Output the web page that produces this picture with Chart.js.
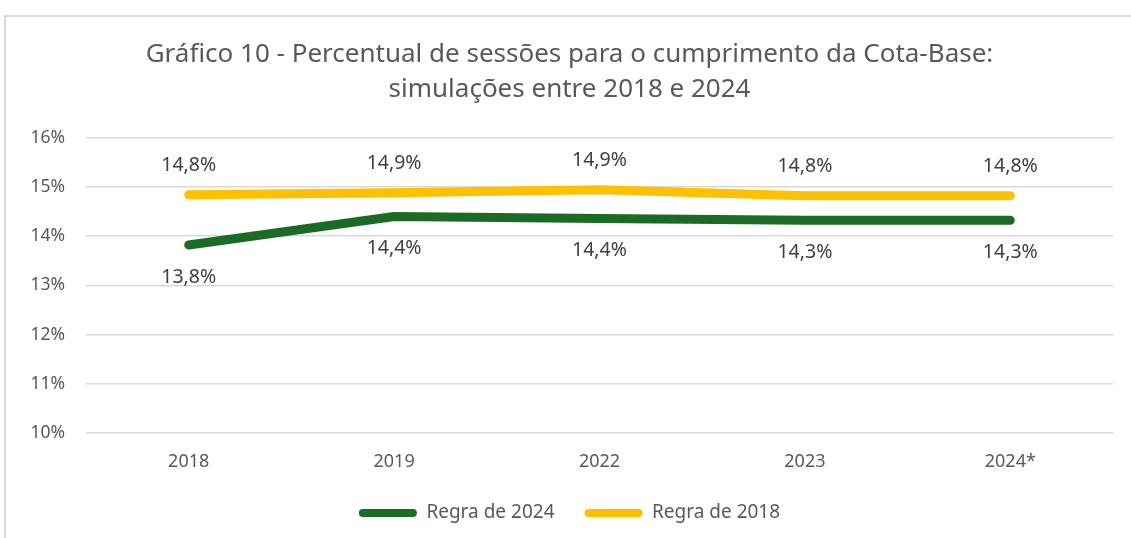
<!DOCTYPE html>
<html>
<head>
<meta charset="utf-8">
<script src="https://cdn.jsdelivr.net/npm/chart.js@4.4.0/dist/chart.umd.min.js"></script>
<style>
  body { margin: 0; background: #fff; }
  #frame { position: absolute; left: 4px; top: 15px; width: 1140px; height: 540px;
    border-left: 2px solid #d9d9d9; border-top: 2px solid #d9d9d9; }
  #wrap { position: absolute; left: 0; top: 0; width: 1131px; height: 538px; }
</style>
</head>
<body>
<div id="frame"></div>
<div id="wrap"><canvas id="myChart"></canvas></div>
<script>
"use strict";

const years = ["2018", "2019", "2022", "2023", "2024*"];
const regra2024 = [13.82, 14.40, 14.36, 14.32, 14.32];
const regra2018 = [14.84, 14.88, 14.94, 14.82, 14.82];
const yTicks = [10, 11, 12, 13, 14, 15, 16];

const green = "#1b6b24";
const yellow = "#ffc000";
const textGrey = "#595959";
const fontFam = "'Noto Sans', sans-serif";

function pct(v) {
  return v.toFixed(1).replace(".", ",") + "%";
}

// labels above the yellow line, below the green one
const valueLabels = {
  id: "valueLabels",
  afterDatasetsDraw(chart) {
    const ctx = chart.ctx;
    ctx.save();
    ctx.font = "19.5px " + fontFam;
    ctx.fillStyle = "#404040";
    ctx.textAlign = "center";
    ctx.textBaseline = "middle";
    chart.data.datasets.forEach((ds, i) => {
      let meta = chart.getDatasetMeta(i);
      let off = ds.label === "Regra de 2018" ? -29 : 32;
      meta.data.forEach((pt, j) => {
        ctx.fillText(pct(ds.data[j]), pt.x, pt.y + off);
      });
    });
    ctx.restore();
  },
};

const data = {
  labels: years,
  datasets: [
    {
      label: "Regra de 2024",
      data: regra2024,
      borderColor: green,
      backgroundColor: green,
      borderWidth: 9,
      pointRadius: 0,
      borderCapStyle: "round",
      borderJoinStyle: "round",
    },
    {
      label: "Regra de 2018",
      data: regra2018,
      borderColor: yellow,
      backgroundColor: yellow,
      borderWidth: 9,
      pointRadius: 0,
      borderCapStyle: "round",
      borderJoinStyle: "round",
    },
  ],
};

const config = {
  type: "line",
  data: data,
  plugins: [valueLabels],
  options: {
    responsive: false,
    animation: false,
    layout: { padding: { left: 26, right: 18, top: 0, bottom: 5.5 } },
    plugins: {
      title: {
        display: true,
        text: ["Gráfico 10 - Percentual de sessões para o cumprimento da Cota-Base:", "simulações entre 2018 e 2024"],
        color: textGrey,
        font: { family: fontFam, size: 26, weight: "normal", lineHeight: 1.34 },
        padding: { top: 37, bottom: 31 },
      },
      legend: {
        position: "bottom",
        labels: {
          color: textGrey,
          font: { family: fontFam, size: 19 },
          boxWidth: 58,
          boxHeight: 8,
          padding: 30,
          useBorderRadius: true,
          borderRadius: 4,
          generateLabels(chart) {
            return chart.data.datasets.map((ds, i) => ({
              text: ds.label,
              fillStyle: ds.borderColor,
              strokeStyle: ds.borderColor,
              lineWidth: 0,
              borderRadius: 4,
              fontColor: textGrey,
              datasetIndex: i,
              hidden: false,
            }));
          },
        },
      },
      tooltip: { enabled: false },
    },
    scales: {
      x: {
        offset: true,
        afterFit(scale) { scale.height = 40.5; },
        grid: { display: false, drawTicks: false },
        border: { display: false },
        ticks: { color: textGrey, font: { family: fontFam, size: 18 }, padding: 18 },
      },
      y: {
        min: 10,
        max: 16,
        afterFit(scale) { scale.width = 60; },
        afterBuildTicks(scale) { scale.ticks = yTicks.map(v => ({ value: v })); },
        grid: { color: "#d9d9d9", lineWidth: 1.5, drawTicks: false },
        border: { display: false },
        ticks: {
          color: textGrey,
          font: { family: fontFam, size: 17.5 },
          padding: 21,
          callback: v => v + "%",
        },
      },
    },
  },
};

const canvasChart = document.getElementById("myChart");
canvasChart.width = 1131;
canvasChart.height = 538;
new Chart(canvasChart, config);
</script>
</body>
</html>
